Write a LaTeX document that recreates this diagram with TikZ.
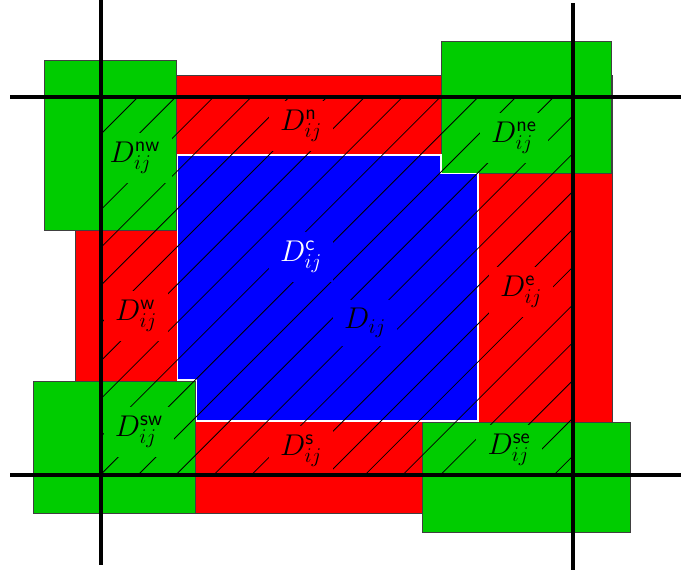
\RequirePackage{fix-cm}
\documentclass[tikz,border=0pt]{standalone}
\definecolor{cellgreen}{RGB}{0,204,0}
\definecolor{cellred}{RGB}{255,0,0}
\definecolor{cellblue}{RGB}{0,0,255}
\tikzset{
  part/.style={draw=black!75, line width=0.6pt},
  hatchline/.style={line width=0.6pt, black},
  gridline/.style={line width=2.4pt, black},
  lbl/.style={inner xsep=8.5pt, inner ysep=6.5pt, font=\fontsize{22.5}{27}\selectfont},
}
\begin{document}
\begin{tikzpicture}[x=0.75pt,y=-0.75pt]
  \useasboundingbox (0,0) rectangle (681,572);

  % outer red frame
  \fill[cellred, part] (75,75) rectangle (612,513);

  % corner cells
  \fill[cellgreen, part] (44.7,60) rectangle (176.7,230);
  \fill[cellgreen, part] (441.3,41) rectangle (611.7,173.3);
  \fill[cellgreen, part] (33,381) rectangle (195.7,513.3);
  \fill[cellgreen, part] (422.3,422.3) rectangle (630.7,532.3);

  % central region
  \fill[cellblue, draw=white, line width=1.2pt]
    (177.5,155) -- (441,155) -- (441,173.5) -- (478,173.5) -- (478,421)
    -- (196.5,421) -- (196.5,380) -- (177.5,380) -- cycle;

  % hatching of the cell
  \begin{scope}
    \clip (101,97) rectangle (573,475);
    \foreach \k in {-1,...,23} {
      \pgfmathsetmacro\cc{235+37.8*\k}
      \draw[hatchline] ({\cc-600},600) -- ({\cc+100},-100);
    }
  \end{scope}

  % labels
  \node[lbl, fill=cellgreen] (lnw) at (135,158) {$D_{ij}^{\mathsf{nw}}$};
  \node[lbl, fill=cellred]   (ln)  at (301,126) {$D_{ij}^{\mathsf{n}}$};
  \node[lbl, fill=cellgreen] (lne) at (514,138) {$D_{ij}^{\mathsf{ne}}$};
  \node[lbl, fill=cellred]   (lw)  at (136,316) {$D_{ij}^{\mathsf{w}}$};
  \node[lbl, fill=cellblue, text=white] (lc) at (301,257) {$D_{ij}^{\mathsf{c}}$};
  \node[lbl, fill=cellblue]  (ld)  at (365,323) {$D_{ij}$};
  \node[lbl, fill=cellred]   (le)  at (521,292) {$D_{ij}^{\mathsf{e}}$};
  \node[lbl, fill=cellgreen] (lsw) at (139,432) {$D_{ij}^{\mathsf{sw}}$};
  \node[lbl, fill=cellred]   (ls)  at (301,451) {$D_{ij}^{\mathsf{s}}$};
  \node[lbl, fill=cellgreen] (lse) at (509,450) {$D_{ij}^{\mathsf{se}}$};

  % grid lines
  \draw[gridline] (101,0) -- (101,565);
  \draw[gridline] (573,3) -- (573,570);
  \draw[gridline] (10,97) -- (681,97);
  \draw[gridline] (10,475) -- (681,475);
\end{tikzpicture}
\end{document}
